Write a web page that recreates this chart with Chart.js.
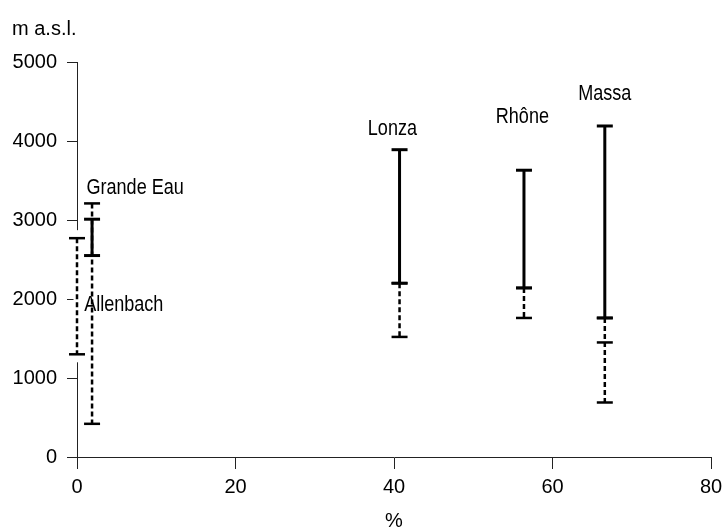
<!DOCTYPE html>
<html>
<head>
<meta charset="utf-8">
<script src="https://cdn.jsdelivr.net/npm/chart.js@4.4.1/dist/chart.umd.min.js"></script>
<style>
  html, body { margin: 0; padding: 0; background: #fff; }
  #grafico { display: block; }
</style>
</head>
<body>
<canvas id="grafico" width="723" height="528"></canvas>
<script>
// ==========================================================================
// DATA
// ==========================================================================
const rivers = ['Allenbach', 'Grande Eau', 'Lonza', 'Rhône', 'Massa'];
const xPercent = [0, 1.9, 40.7, 56.4, 66.6];

// solid range (upper / lower end, m a.s.l.)
const solidUpper = [null, 3010, 3890, 3630, 4190];
const solidLower = [null, 2550, 2200, 2140, 1760];

// dotted range, every level gets a cap
const dottedLevels = [
    [2770, 1300],
    [3210, 420],
    [2200, 1520],
    [2140, 1760],
    [1760, 1450, 690]
];

// label anchors in data units
const labelX = [0.9, 1.2, 39.8, 56.2, 66.6];
const labelY = [1925, 3405, 4150, 4300, 4595];
const labelAlign = ['left', 'left', 'center', 'center', 'center'];

const xTicks = [0, 20, 40, 60, 80];
const yTicks = [0, 1000, 2000, 3000, 4000, 5000];

// ==========================================================================
// DATASETS
// ==========================================================================
const datasets = [];
rivers.forEach(function (name, i) {
    if (solidUpper[i] !== null) {
        datasets.push({
            label: name + ' solid',
            data: [{ x: xPercent[i], y: solidUpper[i] }, { x: xPercent[i], y: solidLower[i] }],
            borderColor: '#000',
            borderWidth: 3,
            pointStyle: 'line',
            pointRadius: 8,
            pointBorderWidth: 3,
            pointBorderColor: '#000',
            showLine: true,
            clip: false,
            order: 0
        });
    }
});
rivers.forEach(function (name, i) {
    datasets.push({
        label: name + ' dotted',
        data: dottedLevels[i].map(v => ({ x: xPercent[i], y: v })),
        borderColor: '#000',
        borderWidth: 2.5,
        borderDash: [5, 3],
        pointStyle: 'line',
        pointRadius: 8,
        pointBorderWidth: 2.5,
        pointBorderColor: '#000',
        showLine: true,
        clip: false,
        order: 1
    });
});

// ==========================================================================
// PLUGINS: white gap behind the bar on the axis + text labels
// ==========================================================================
const labelFont = '22px "Liberation Sans Narrow", "Liberation Sans"';

const plugins = [{
    id: 'axisGap',
    beforeDatasetsDraw(chart) {
        const { ctx, scales: { x, y } } = chart;
        const px = x.getPixelForValue(xPercent[0]);
        const top = y.getPixelForValue(Math.max(...dottedLevels[0])) - 8;
        const bottom = y.getPixelForValue(Math.min(...dottedLevels[0])) + 8;
        ctx.save();
        ctx.fillStyle = '#fff';
        ctx.fillRect(px - 3.5, top, 7, bottom - top);
        ctx.restore();
    }
}, {
    id: 'texts',
    afterDraw(chart) {
        const { ctx, scales: { x, y } } = chart;
        ctx.save();
        ctx.fillStyle = '#000';

        // unit of the y axis, top left
        ctx.font = '20px "Liberation Sans", Arial, sans-serif';
        ctx.textAlign = 'left';
        ctx.textBaseline = 'alphabetic';
        ctx.fillText('m a.s.l.', 12, 35);

        // river names, narrow face (squeeze if the narrow font is missing)
        ctx.textBaseline = 'middle';
        ctx.font = labelFont;
        const wNarrow = ctx.measureText('Grande Eau').width;
        ctx.font = '22px "Liberation Sans"';
        const wWide = ctx.measureText('Grande Eau').width;
        const squeeze = Math.abs(wNarrow - wWide) < 0.5 ? 0.82 : 1;
        ctx.font = squeeze === 1 ? labelFont : '22px "Liberation Sans"';

        rivers.forEach(function (name, i) {
            const px = x.getPixelForValue(labelX[i]);
            const py = y.getPixelForValue(labelY[i]);
            ctx.save();
            ctx.translate(px, py);
            ctx.scale(squeeze, 1);
            ctx.textAlign = labelAlign[i];
            ctx.fillText(name, 0, 0);
            ctx.restore();
        });
        ctx.restore();
    }
}];

// ==========================================================================
// CHART
// ==========================================================================
const tickFont = { family: '"Liberation Sans", Arial, sans-serif', size: 20 };

new Chart(document.getElementById('grafico').getContext('2d'), {
    type: 'scatter',
    data: { datasets: datasets },
    options: {
        responsive: false,
        animation: false,
        layout: { padding: { top: 62, right: 12, bottom: 0, left: 0 } },
        plugins: {
            legend: { display: false },
            tooltip: { enabled: false }
        },
        scales: {
            x: {
                type: 'linear',
                min: 0,
                max: 80,
                afterBuildTicks: s => { s.ticks = xTicks.map(v => ({ value: v })); },
                afterFit: s => { s.height = 71; s.paddingLeft = 0; s.paddingRight = 0; },
                ticks: { font: tickFont, color: '#000', padding: 6, maxRotation: 0, callback: v => String(v) },
                grid: { drawOnChartArea: false, drawTicks: true, tickLength: 12, tickColor: '#222', tickWidth: 1 },
                border: { display: true, color: '#222', width: 1 },
                title: { display: true, text: '%', font: tickFont, color: '#000', padding: { top: 0, bottom: -5 } }
            },
            y: {
                type: 'linear',
                min: 0,
                max: 5000,
                afterBuildTicks: s => { s.ticks = yTicks.map(v => ({ value: v })); },
                afterFit: s => { s.width = 77; s.paddingTop = 0; s.paddingBottom = 0; },
                ticks: { font: tickFont, color: '#000', padding: 10, callback: v => String(v) },
                grid: { drawOnChartArea: false, drawTicks: true, tickLength: 10, tickColor: '#222', tickWidth: 1 },
                border: { display: true, color: '#222', width: 1 }
            }
        }
    },
    plugins: plugins
});
</script>
</body>
</html>
